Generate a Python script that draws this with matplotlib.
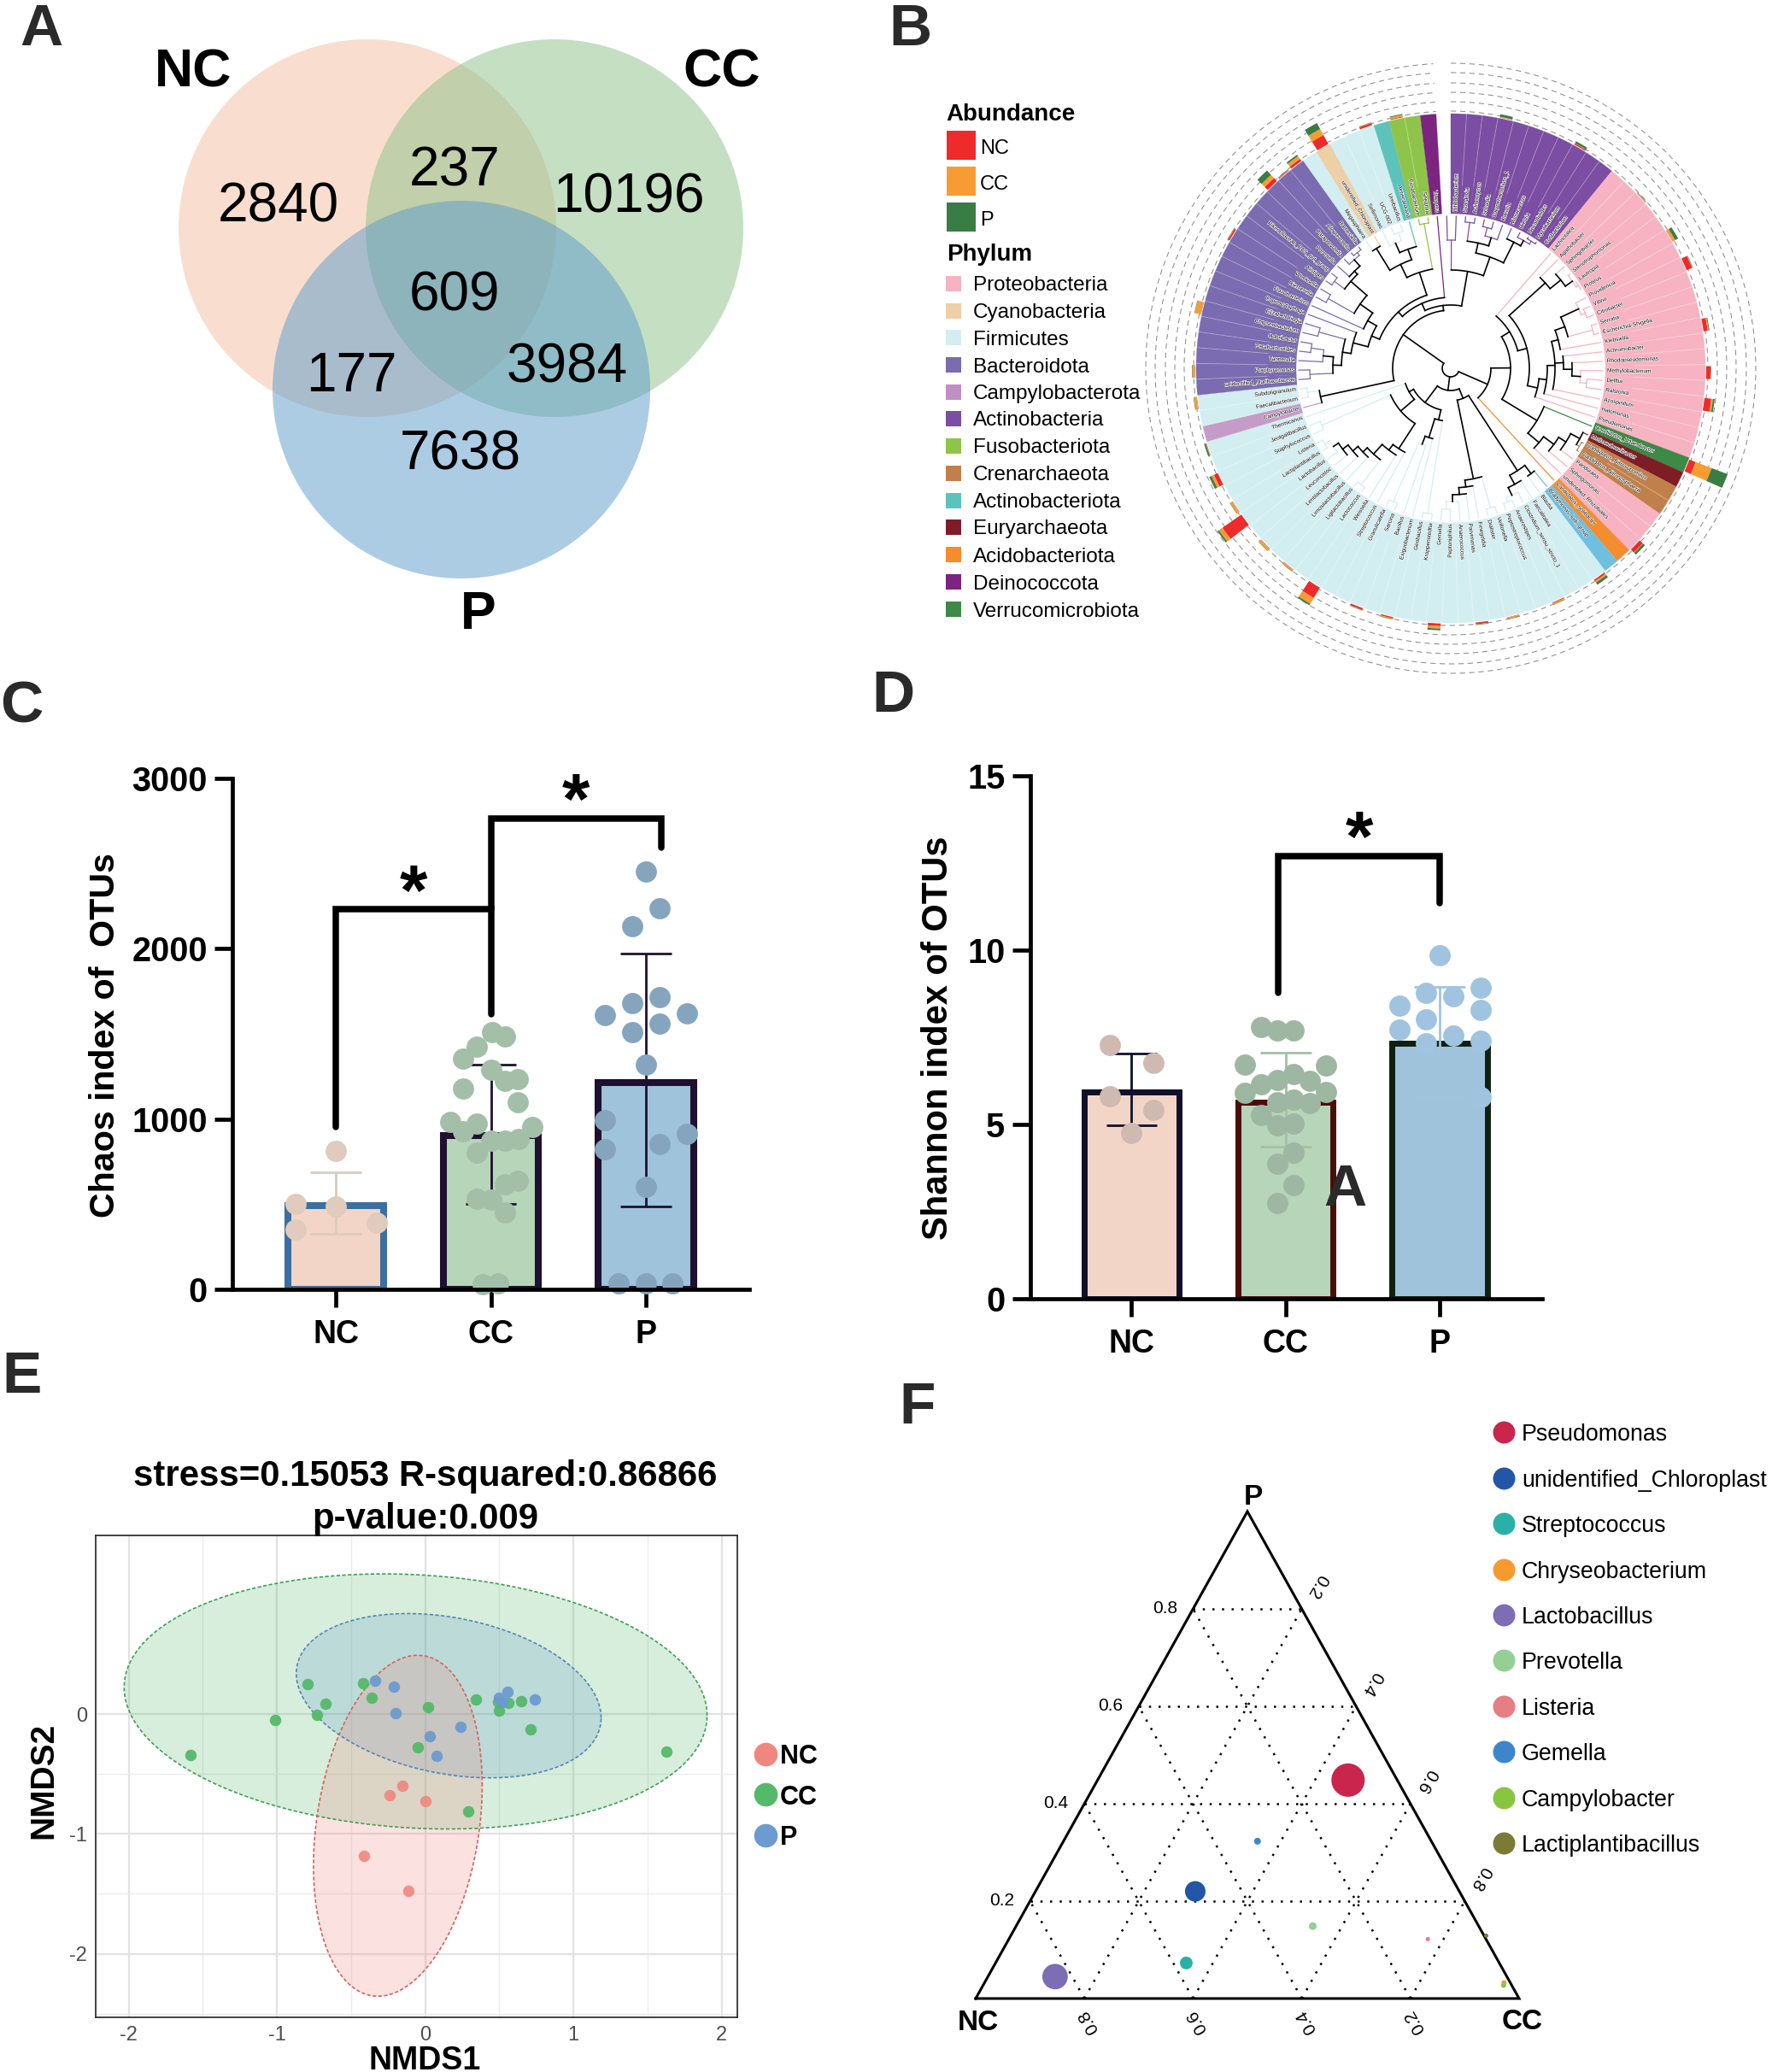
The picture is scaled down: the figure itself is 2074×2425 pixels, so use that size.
import numpy as np
import matplotlib
matplotlib.use('Agg')
import matplotlib.pyplot as plt
import matplotlib.patheffects as pe
from matplotlib.patches import Circle, Rectangle

plt.rcParams['font.family'] = ['Liberation Sans', 'DejaVu Sans']
plt.rcParams['axes.unicode_minus'] = False

W, H = 2074, 2425
fig = plt.figure(figsize=(W / 100, H / 100), dpi=100)


def rect(x0, y0, x1, y1):
    # reference pixels -> figure fraction
    return [x0 / W, 1 - y1 / H, (x1 - x0) / W, (y1 - y0) / H]


# overlay in reference pixels for panel letters, legends, free text
ov = fig.add_axes([0, 0, 1, 1], zorder=20)
ov.set_xlim(0, W)
ov.set_ylim(H, 0)
ov.axis('off')

MID = 'center_baseline'
DARK = '#2a2a2a'
panel_letters = ['A', 'B', 'C', 'D', 'E', 'F']
panel_x = [48, 1065, 25, 1045, 26, 1074]
panel_y = [28, 28, 820, 808, 1605, 1641]
for s, x, y in zip(panel_letters, panel_x, panel_y):
    ov.text(x, y, s, fontsize=50, fontweight='bold', color=DARK, ha='center', va=MID)

# ---------- A: venn ----------
venn_x = [430, 649, 540]
venn_y = [267, 267, 456]
venn_r = 221
venn_col = ['#f4bfa0', '#8bc187', '#5b9bcb']
for x, y, c in zip(venn_x, venn_y, venn_col):
    ov.add_patch(Circle((x, y), venn_r, fc=c, ec='none', alpha=0.5))
venn_counts = ['2840', '237', '10196', '609', '177', '3984', '7638']
venn_tx = [326, 532, 736, 532, 411, 664, 539]
venn_ty = [236, 194, 225, 340, 435, 424, 526]
for s, x, y in zip(venn_counts, venn_tx, venn_ty):
    ov.text(x, y, s, fontsize=46, color='black', ha='center', va=MID)
for s, x, y in zip(['NC', 'CC', 'P'], [226, 845, 560], [79, 79, 713]):
    ov.text(x, y, s, fontsize=45, fontweight='bold', color='black', ha='center', va=MID)

# ---------- B: circular tree ----------
PROT, CYAN, FIRM, BACT, CAMP, ACTI = '#f7b3c2', '#edcfa8', '#d3eef1', '#7b6bb0', '#c79bc8', '#7b4da3'
FUSO, CREN, ACTO, EURY, ACID, DEIN, VERR = '#8fc44b', '#c1804b', '#5cc2bc', '#7f1d27', '#f58c2d', '#7b2480', '#3c8a45'
LBLUE = '#6fbfdf'

sector_col = [ACTI, PROT, VERR, EURY, CREN, PROT, ACID, LBLUE, FIRM, CAMP, FIRM, BACT, FIRM, CYAN, FIRM, ACTO, FUSO, DEIN]
sector_n = [11, 20, 1, 1, 2, 3, 1, 1, 31, 1, 2, 17, 1, 1, 3, 1, 2, 1]
genus = ['Bifidobacterium', 'Scardovia', 'Actinomyces', 'Schaalia', 'Corynebacterium_1', 'Kocuria',
         'Micrococcus', 'Dietzia', 'Nocardioides', 'Mycobacterium', 'Cutibacterium',
         'Lachnotalea', 'Agathobacter', 'Sphingobacter', 'Stenotrophomonas', 'Lautropia', 'Proteus',
         'Providencia', 'Vibrio', 'Citrobacter', 'Serratia', 'Escherichia-Shigella', 'Klebsiella',
         'Achromobacter', 'Rhodopseudomonas', 'Methylobacterium', 'Delftia', 'Ralstonia', 'Azospirillum',
         'Halomonas', 'Pseudomonas',
         'Candidatus_Udaeobacter', 'Methanobrevibacter', 'Candidatus_Nitrosopumilus',
         'Candidatus_Nitrososphaera', 'Pandoraea', 'Sphingomonas', 'unidentified_Rhizobiales',
         'Candidatus_Solibacter', 'Bradymonas_ludi_group',
         'Blautia', 'Faecalitalea', 'Clostridium_sensu_stricto_1', 'Anaerostipes', 'Peptostreptococcus',
         'Veillonella', 'Dialister', 'Finegoldia', 'Parvimonas', 'Anaerococcus', 'Peptoniphilus', 'Gemella',
         'Kroppenstedtia', 'Geobacillus', 'Exiguobacterium', 'Bacillus', 'Sarcina', 'Granulicatella',
         'Streptococcus', 'Weissella', 'Lactococcus', 'Ligilactobacillus', 'Limosilactobacillus',
         'Lentilactobacillus', 'Leuconostoc', 'Lactobacillus', 'Lactiplantibacillus', 'Listeria',
         'Staphylococcus', 'Jeotgalibacillus', 'Thermicanus',
         'Campylobacter', 'Faecalibacterium', 'Subdoligranulum',
         'unidentified_Muribaculaceae', 'Porphyromonas', 'Tannerella', 'Parabacteroides', 'Odoribacter',
         'Chryseobacterium', 'Elizabethkingia', 'Capnocytophaga', 'Flavobacterium', 'Riemerella', 'Weeksella',
         'Alistipes', 'Rikenellaceae_RC9_gut_group', 'Prevotella', 'Paraprevotella', 'Alloprevotella', 'Barnesiella',
         'Megasphaera', 'unidentified_Chloroplast', 'Sellimonas', 'UCG-002', 'Ureibacillus',
         'Aeriscardovia', 'Fusobacterium', 'Sneathia', 'Truepera']
LEAF_DEG = 3.567
TIP_R = 178

# (node radius, child, child ...); an int is a leaf, numbers above 99 wrap past the gap
clade_g = (118, 31, (135, (150, (160, (172, 32, (176, 33, 34)), 35), 36), 37))
clade_u1 = (149, 12, (165, 13, (175, 14, (178, 15, 16))))
clade_u2 = (104, (113, (122, (130, (142, (165, 17, (170, 18, 19)), (172, 20, 21)), 22),
                          (132, 23, (142, 24, (152, 25, (160, 26, 27)))), 28), 29), 30)
clade_b = (47, (70, (81, 11, (92, clade_u1, clade_u2)), clade_g), 38)
t143 = (143, (155, 39, 40), (155, 41, (165, 42, (170, 43, 44))))
t132 = (132, (170, 45, 46), (140, 47, (148, 48, (156, 49, (165, 50, 51)))))
ladder = (112, 58, (120, 59, (135, (172, 60, 61), (142, 62, (150, 63, (158, 64, (165, 65, (172, 66, 67))))))))
clade_c = (26, (38, t143, t132),
           (50, (62, (172, 52, 53), (85, 54, (95, 55, (170, 56, 57)))),
            (56, (77, ladder, (165, 68, 69)), 70)))
bact = (100,
        (118, (128, (138, (165, 74, 75), (150, 76, (165, 77, 78))), (160, 79, 80)), 81),
        (112, 82, (130, (165, 83, 84), (155, (170, 85, 86), (160, 87, (170, 88, (174, 89, 90)))))))
top_left = (118, (135, (165, 91, 92), (148, (160, 93, (170, 94, 95)), 96)), (172, 97, 98))
acti_tree = (115, (150, 100, 101), (138, (150, (172, 102, 103), (160, (170, 104, 105), 106)), (165, 107, (172, 108, (176, 109, 110)))))
clade_a = (68, (156, 71, (170, 72, 73)), (74, (83, (90, bact, top_left), 99), acti_tree))
tree = (10, clade_b, clade_c, clade_a)

# abundance ring, stacked radial lengths per leaf
ring_leaf = [3, 8, 13, 16, 18, 22, 25, 27, 31, 37, 40, 43, 46, 48, 51, 54, 56, 59, 61, 63, 65, 66, 68, 70, 73, 75, 79, 84, 88, 89, 90, 92, 95, 97]
ring_nc = [0.5, 1.5, 0.5, 0.5, 7, 5, 5, 8, 8, 5, 2, 1, 0.5, 2, 3, 1.5, 2, 14, 0.5, 0.5, 27, 0.5, 5, 0.5, 0.5, 0.5, 0.5, 2, 5, 1, 3, 12, 2.5, 1]
ring_cc = [0.5, 0.5, 0.5, 3, 0.5, 1, 0.5, 2, 20, 0.5, 2, 1.5, 1.5, 0.5, 3, 1, 0.5, 8, 2, 3, 5, 3, 3, 0.5, 3, 3, 7, 0.5, 5, 0.5, 4, 8, 0.5, 2]
ring_p = [3, 2.5, 0.5, 4, 0.5, 1, 0.5, 2, 20, 3, 3, 0.5, 0.5, 0.5, 2, 0.5, 0.5, 2, 0.5, 0.5, 2, 0.5, 3, 2, 0.5, 0.5, 0.5, 0.5, 7, 0.5, 2, 8, 0.5, 1]
ring_radii = [301, 312, 323, 334, 346, 357]

pol = fig.add_axes(rect(1698 - 365, 431 - 365, 1698 + 365, 431 + 365), projection='polar')
pol.set_theta_zero_location('N')
pol.set_theta_direction(-1)
pol.set_rlim(0, 365)
pol.axis('off')
pol.patch.set_alpha(0)

leaf_col = []
for c, n in zip(sector_col, sector_n):
    leaf_col += [c] * n
for i, c in enumerate(leaf_col):
    th = np.radians((i + 0.5) * LEAF_DEG)
    pol.bar(th, 298 - 181, width=np.radians(LEAF_DEG), bottom=181, color=c, edgecolor=c, linewidth=0.2, zorder=1)
    if i > 0 and leaf_col[i - 1] == c:
        pol.plot([np.radians(i * LEAF_DEG)] * 2, [215, 298], color='white', alpha=0.3, lw=0.7, zorder=2)

for r in ring_radii:
    t = np.radians(np.linspace(0, 356.7, 500))
    pol.plot(t, [r] * 500, color='#8c8c8c', lw=0.75, ls=(0, (6, 4.5)), zorder=1)

for i, nc, cc, p in zip(ring_leaf, ring_nc, ring_cc, ring_p):
    th = np.radians((i + 0.5) * LEAF_DEG)
    w = np.radians(LEAF_DEG * 0.8)
    pol.bar(th, nc, width=w, bottom=299, color='#ee2a2a', zorder=3)
    pol.bar(th, cc, width=w, bottom=299 + nc, color='#f79c33', zorder=3)
    pol.bar(th, p, width=w, bottom=299 + nc + cc, color='#3a7d44', zorder=3)

halo = [pe.withStroke(linewidth=0.8, foreground='white')]
for i, s in enumerate(genus):
    b = (i + 0.5) * LEAF_DEG
    if b < 180:
        rot, ha = 90 - b, 'left'
    else:
        rot, ha = 270 - b, 'right'
    pol.text(np.radians(b), 183, s, fontsize=4.7, color='black', rotation=rot, rotation_mode='anchor',
             ha=ha, va='center', path_effects=halo, zorder=5)


def leaves_of(node):
    if isinstance(node, int):
        return [node]
    out = []
    for ch in node[1:]:
        out += leaves_of(ch)
    return out


def arc_color(node):
    # only the small tip groups carry the phylum colour, inner nodes stay black
    ids = leaves_of(node)
    cols = {leaf_col[i % 100] for i in ids}
    return cols.pop() if len(cols) == 1 and len(ids) <= 3 else 'black'


def draw_node(node):
    if isinstance(node, int):
        return (node + 0.5) * LEAF_DEG, TIP_R
    r = node[0]
    th = []
    for ch in node[1:]:
        t, cr = draw_node(ch)
        if isinstance(ch, int):
            c = leaf_col[ch % 100]
        else:
            c = arc_color(ch) if len(leaves_of(ch)) <= 2 else 'black'
        pol.plot(np.radians([t, t]), [r, cr], color=c, lw=0.9 if c != 'black' else 1.2, zorder=4)
        th.append(t)
    c = arc_color(node)
    arc = np.radians(np.linspace(th[0], th[-1], 40))
    pol.plot(arc, [r] * 40, color=c, lw=0.9 if c != 'black' else 1.2, zorder=4)
    return (th[0] + th[-1]) / 2, r


draw_node(tree)

# B legend
ov.text(1107, 131, 'Abundance', fontsize=20, fontweight='bold', va=MID)
ov.text(1108, 295, 'Phylum', fontsize=20, fontweight='bold', va=MID)
abund_names = ['NC', 'CC', 'P']
abund_col = ['#ee2a2a', '#f79c33', '#3a7d44']
abund_y = [153, 195, 237]
for s, c, y in zip(abund_names, abund_col, abund_y):
    ov.add_patch(Rectangle((1108, y), 34, 33.5, fc=c, ec='none'))
    ov.text(1147, y + 18, s, fontsize=17, va=MID)
phylum_names = ['Proteobacteria', 'Cyanobacteria', 'Firmicutes', 'Bacteroidota', 'Campylobacterota',
                'Actinobacteria', 'Fusobacteriota', 'Crenarchaeota', 'Actinobacteriota', 'Euryarchaeota',
                'Acidobacteriota', 'Deinococcota', 'Verrucomicrobiota']
phylum_col = [PROT, CYAN, FIRM, BACT, '#c08fc3', ACTI, FUSO, CREN, ACTO, EURY, ACID, DEIN, VERR]
phylum_y = [332, 363.6, 395, 427, 459, 490, 522, 554, 585.5, 617, 649, 681, 713]
for s, c, y in zip(phylum_names, phylum_col, phylum_y):
    ov.add_patch(Rectangle((1107, y - 9), 18, 18, fc=c, ec='none'))
    ov.text(1139, y, s, fontsize=17.5, va=MID)

# ---------- C / D: bars ----------
groups = ['NC', 'CC', 'P']

c_height = [490, 905, 1215]
c_err_hi = [688, 1320, 1973]
c_err_lo = [325, 503, 485]
c_nc_dx = [0, -0.26, 0, -0.26, 0.263]
c_nc_y = [812, 501, 485, 353, 390]
c_cc_dx = [0.01, 0.09, -0.09, -0.177, 0, 0.174, 0.09, -0.177, 0.174, -0.264, -0.09, -0.177, 0.266, 0, 0.09, 0.18, -0.09, 0.174, 0.09, -0.09, 0, 0.09, -0.05, 0.045]
c_cc_y = [1510, 1484, 1425, 1353, 1287, 1236, 1222, 1181, 1097, 983, 974, 928, 954, 873, 873, 885, 805, 637, 618, 531, 526, 452, 32, 37]
c_p_dx = [0, 0.087, -0.09, 0.087, -0.09, -0.264, 0.263, 0.087, -0.09, 0, -0.264, 0.263, 0.087, -0.264, 0, -0.176, 0, 0.173]
c_p_y = [2455, 2236, 2130, 1715, 1680, 1611, 1622, 1558, 1512, 1318, 995, 914, 855, 821, 603, 33, 33, 33]

d_height = [5.92, 5.63, 7.33]
d_err_hi = [7.02, 7.06, 8.94]
d_err_lo = [4.98, 4.35, 5.8]
d_nc_dx = [-0.144, 0.139, -0.144, 0.139, 0]
d_nc_y = [7.27, 6.76, 5.81, 5.41, 4.75]
d_cc_dx = [-0.159, -0.057, 0.05, -0.264, 0.26, 0.05, 0.159, -0.057, -0.159, -0.264, 0.26, 0.05, -0.057, 0.159, -0.159, 0.05, -0.057, 0.05, -0.057, 0.05, -0.057]
d_cc_y = [7.79, 7.68, 7.68, 6.72, 6.69, 6.44, 6.24, 6.27, 6.16, 5.9, 5.92, 5.71, 5.63, 5.6, 5.26, 5.03, 4.98, 4.19, 3.87, 3.26, 2.75]
d_p_dx = [0, 0.264, -0.088, 0.088, 0.264, -0.26, -0.088, -0.26, 0.088, 0.264, -0.088, 0.264]
d_p_y = [9.84, 8.92, 8.78, 8.67, 8.27, 8.41, 8.0, 7.72, 7.54, 7.39, 7.32, 5.77]

fills = ['#f3d5c7', '#b7d5b8', '#a0c3dc']


def bar_panel(box, xlim, ymax, yticks, heights, hi, lo, edge, err_col, pts, pt_col, width, lw):
    ax = fig.add_axes(rect(*box))
    ax.patch.set_alpha(0)
    ax.set_xlim(*xlim)
    ax.set_ylim(0, ymax)
    for k in range(3):
        ax.bar(k, heights[k], width=width, facecolor=fills[k], edgecolor=edge[k], linewidth=lw, zorder=2)
        ax.plot([k, k], [lo[k], hi[k]], color=err_col[k], lw=2, zorder=3, solid_capstyle='butt')
        for v in (lo[k], hi[k]):
            ax.plot([k - 0.165, k + 0.165], [v, v], color=err_col[k], lw=2, zorder=3, solid_capstyle='butt')
        dx, vals = pts[k]
        ax.scatter(np.array(dx) + k, vals, s=320, color=pt_col[k], linewidth=0, zorder=4, clip_on=False)
    for s in ['top', 'right']:
        ax.spines[s].set_visible(False)
    for s in ['left', 'bottom']:
        ax.spines[s].set_linewidth(3.4)
        ax.spines[s].set_zorder(5)
    ax.set_xticks(range(3))
    ax.set_xticklabels(groups, fontsize=27, fontweight='bold')
    ax.set_yticks(yticks)
    ax.set_yticklabels([str(v) for v in yticks], fontsize=28.5, fontweight='bold')
    ax.tick_params(axis='x', length=15, width=3.4, pad=10)
    ax.tick_params(axis='y', length=15, width=3.4, pad=6)
    return ax


def bracket(ax, xs, ys):
    ax.plot(xs, ys, color='black', lw=5.4, solid_joinstyle='miter', solid_capstyle='round', zorder=6)


def star(ax, x, y):
    ax.annotate('*', (x, y), xytext=(0, -30), textcoords='offset points', fontsize=60, fontweight='bold',
                ha='center', va='baseline', color='black', zorder=7)


axc = bar_panel((272, 911, 877, 1509), (-0.667, 2.667), 3000, [0, 1000, 2000, 3000], c_height, c_err_hi, c_err_lo,
                ['#3b6fa0', '#1f1030', '#1f1030'], ['#dccbbd', '#1f1030', '#1f1030'],
                [(c_nc_dx, c_nc_y), (c_cc_dx, c_cc_y), (c_p_dx, c_p_y)], ['#e0cbbc', '#a3bfa8', '#85a5be'], 0.615, 5.8)
bracket(axc, [0, 0, 1, 1], [953, 2234, 2234, 1615])
bracket(axc, [1, 1, 2.1, 2.1], [2234, 2765, 2765, 2596])
star(axc, 0.5, 2407)
star(axc, 1.55, 2942)
ov.text(123, 1212, 'Chaos index of  OTUs', fontsize=29.6, fontweight='bold', rotation=90, ha='center', va='center')

axd = bar_panel((1205.5, 907.6, 1805, 1520), (-0.66, 2.665), 15, [0, 5, 10, 15], d_height, d_err_hi, d_err_lo,
                ['#10102a', '#4a0e0a', '#0f2010'], ['#10102a', '#a5bfa9', '#a0c4df'],
                [(d_nc_dx, d_nc_y), (d_cc_dx, d_cc_y), (d_p_dx, d_p_y)], ['#cfb9b0', '#9db7a2', '#a0c4df'], 0.617, 5.0)
bracket(axd, [0.95, 0.95, 2, 2], [8.78, 12.7, 12.7, 11.34])
star(axd, 1.476, 13.56)
ov.text(1098, 1215, 'Shannon index of OTUs', fontsize=30, fontweight='bold', rotation=90, ha='center', va='center')
ov.text(1574, 1386, 'A', fontsize=50, fontweight='bold', color=DARK, ha='center', va=MID)

# ---------- E: NMDS ----------
nc_x = [-0.41, -0.11, -0.24, -0.155, 0.0]
nc_y = [-1.18, -1.475, -0.675, -0.6, -0.73]
cc_x = [-1.58, -1.01, -0.79, -0.67, -0.73, -0.42, -0.36, 0.02, -0.05, 0.34, 0.5, 0.56, 0.65, 0.71, 0.29, 1.63, 0.49]
cc_y = [-0.34, -0.05, 0.25, 0.085, -0.01, 0.26, 0.135, 0.06, -0.28, 0.125, 0.03, 0.09, 0.11, -0.13, -0.81, -0.31, 0.1]
p_x = [-0.34, -0.21, -0.2, 0.03, 0.08, 0.24, 0.5, 0.555, 0.52, 0.74]
p_y = [0.275, 0.23, 0.007, -0.186, -0.346, -0.11, 0.135, 0.186, 0.1, 0.12]

# ellipse centre x, y, half extent x, y, correlation
ell_nc = (-0.184, -0.932, 0.569, 1.422, 0.235)
ell_cc = (-0.064, 0.105, 1.966, 1.064, -0.11)
ell_p = (0.159, 0.153, 1.028, 0.685, -0.27)
col_nc, col_cc, col_p = '#f0877f', '#55b96a', '#6c9bcf'
edge_nc, edge_cc, edge_p = '#d9605a', '#3f9f55', '#5585b5'

axe = fig.add_axes(rect(112, 1797, 863, 2361))
axe.set_xlim(-2.222, 2.106)
axe.set_ylim(-2.53, 1.49)
axe.set_xticks([-2, -1, 0, 1, 2])
axe.set_yticks([-2, -1, 0])
axe.set_xticks([-1.5, -0.5, 0.5, 1.5], minor=True)
axe.set_yticks([-2.5, -1.5, -0.5], minor=True)
axe.grid(True, which='major', color='#e2e2e2', lw=1.6, zorder=0)
axe.grid(True, which='minor', color='#ececec', lw=1.0, zorder=0)
axe.set_axisbelow(True)
axe.tick_params(which='minor', length=0)
axe.tick_params(which='major', length=0, labelsize=17, labelcolor='#4d4d4d', pad=7)
for s in axe.spines.values():
    s.set_color('#333333')
    s.set_linewidth(1.3)
t = np.linspace(0, 2 * np.pi, 300)
for (cx, cy, sx, sy, rho), fc, ec in zip([ell_cc, ell_p, ell_nc], [col_cc, col_p, col_nc], [edge_cc, edge_p, edge_nc]):
    ex = cx + sx * np.cos(t)
    ey = cy + sy * (rho * np.cos(t) + np.sqrt(1 - rho ** 2) * np.sin(t))
    axe.fill(ex, ey, color=fc, alpha=0.24, lw=0, zorder=1)
    axe.plot(ex, ey, color=ec, lw=1.2, ls=(0, (2.5, 1.5)), zorder=2)
axe.scatter(cc_x, cc_y, s=94, color=col_cc, lw=0, alpha=0.95, zorder=3)
axe.scatter(nc_x, nc_y, s=94, color=col_nc, lw=0, alpha=0.9, zorder=3)
axe.scatter(p_x, p_y, s=94, color=col_p, lw=0, alpha=0.95, zorder=3)
ov.text(498, 1723, 'stress=0.15053 R-squared:0.86866', fontsize=30.2, fontweight='bold', ha='center', va=MID)
ov.text(498, 1773, 'p-value:0.009', fontsize=30.2, fontweight='bold', ha='center', va=MID)
ov.text(497, 2408, 'NMDS1', fontsize=27, fontweight='bold', ha='center', va=MID)
ov.text(51, 2084, 'NMDS2', fontsize=28, fontweight='bold', rotation=90, ha='center', va='center')
leg_e_y = [2052.5, 2100, 2147.6]
for s, c, y in zip(groups, [col_nc, col_cc, col_p], leg_e_y):
    ov.scatter([895.5], [y], s=395, color=c, lw=0)
    ov.text(913, y, s, fontsize=22, fontweight='bold', va=MID)

# ---------- F: ternary ----------
genera = ['Pseudomonas', 'unidentified_Chloroplast', 'Streptococcus', 'Chryseobacterium', 'Lactobacillus',
          'Prevotella', 'Listeria', 'Gemella', 'Campylobacter', 'Lactiplantibacillus']
tern_cc = [0.461, 0.294, 0.351, 0.956, 0.1235, 0.546, 0.771, 0.357, 0.958, 0.875]
tern_p = [0.4485, 0.22, 0.073, 0.0325, 0.045, 0.1486, 0.122, 0.323, 0.027, 0.129]
tern_size = [790, 300, 115, 18, 460, 42, 13, 33, 18, 13]
tern_col = ['#c9254d', '#2456a8', '#2ab0a7', '#f79a2e', '#7c6db5', '#94d095', '#e67e83', '#3e86cb', '#87c63e', '#7c7b35']
grid_levels = [0.2, 0.4, 0.6, 0.8]

axf = fig.add_axes(rect(1142, 1769, 1778, 2339))
axf.set_xlim(0, 1)
axf.set_ylim(0, 1)
axf.axis('off')


def tern_xy(cc, p):
    return np.asarray(cc) + np.asarray(p) / 2, np.asarray(p)


dots = dict(color='black', lw=1.8, ls=(0, (1, 3.5)), zorder=1)
for g in grid_levels:
    x, y = tern_xy([0, 1 - g], [g, g])
    axf.plot(x, y, **dots)
    x, y = tern_xy([g, g], [0, 1 - g])
    axf.plot(x, y, **dots)
    x, y = tern_xy([1 - g, 0], [0, 1 - g])
    axf.plot(x, y, **dots)
x, y = tern_xy([0, 1, 0, 0], [0, 0, 1, 0])
axf.plot(x, y, color='black', lw=2.2, solid_joinstyle='miter', clip_on=False, zorder=2)
x, y = tern_xy(tern_cc, tern_p)
axf.scatter(x, y, s=tern_size, c=tern_col, lw=0, zorder=3, clip_on=False)
for g in grid_levels:
    axf.text(g / 2 - 0.052, g, f'{g:.1f}', fontsize=15, ha='center', va='center')
    axf.text(1 - g / 2 + 0.029, g + 0.0466, f'{1 - g:.1f}', fontsize=15, rotation=240, ha='center', va='center', rotation_mode='anchor')
    axf.text(g + 0.008, -0.048, f'{1 - g:.1f}', fontsize=15, rotation=120, ha='center', va='center', rotation_mode='anchor')
for s, px, py in zip(['P', 'NC', 'CC'], [1467, 1145, 1782], [1749, 2364, 2363]):
    ov.text(px, py, s, fontsize=24, fontweight='bold', ha='center', va=MID)
leg_f_y = [1676, 1730, 1783, 1837, 1890, 1943, 1997, 2050, 2104, 2157]
for s, c, y in zip(genera, tern_col, leg_f_y):
    ov.scatter([1760], [y], s=350, color=c, lw=0)
    ov.text(1781, y, s, fontsize=19.3, va=MID)

fig.savefig('out.png', dpi=100, facecolor='white')
